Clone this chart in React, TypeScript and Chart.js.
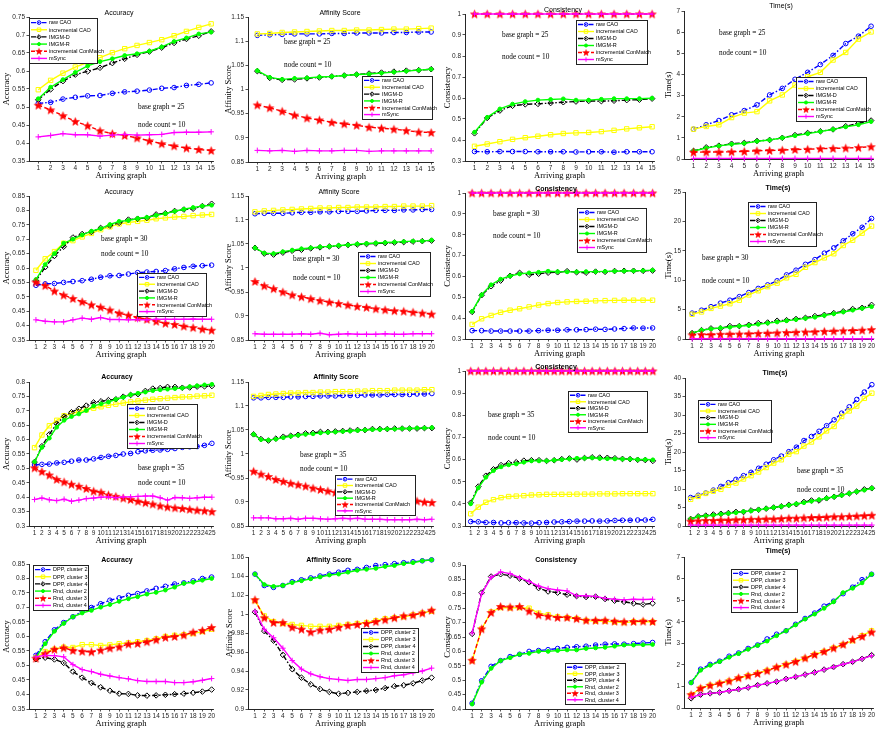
import React, { useEffect, useRef } from 'react';
import { Chart, registerables } from 'chart.js';
Chart.register(...registerables);

// ---------- categories ----------
const X15 = [1, 2, 3, 4, 5, 6, 7, 8, 9, 10, 11, 12, 13, 14, 15];
const X20 = [1, 2, 3, 4, 5, 6, 7, 8, 9, 10, 11, 12, 13, 14, 15, 16, 17, 18, 19, 20];
const X25 = [1, 2, 3, 4, 5, 6, 7, 8, 9, 10, 11, 12, 13, 14, 15, 16, 17, 18, 19, 20, 21, 22, 23, 24, 25];

const METHODS = ['raw CAO', 'incremental CAO', 'IMGM-D', 'IMGM-R', 'incremental ConMatch', 'mSync'];
const CLUSTERS = ['DPP, cluster 2', 'DPP, cluster 3', 'DPP, cluster 4', 'Rnd, cluster 2', 'Rnd, cluster 3', 'Rnd, cluster 4'];

// ---------- tick labels ----------
const ACC_T1 = [0.35, 0.4, 0.45, 0.5, 0.55, 0.6, 0.65, 0.7, 0.75];
const ACC_T2 = [0.35, 0.4, 0.45, 0.5, 0.55, 0.6, 0.65, 0.7, 0.75, 0.8, 0.85];
const ACC_T3 = [0.3, 0.35, 0.4, 0.45, 0.5, 0.55, 0.6, 0.65, 0.7, 0.75, 0.8];
const AFF_T = [0.85, 0.9, 0.95, 1, 1.05, 1.1, 1.15];
const AFFC_T = [0.9, 0.92, 0.94, 0.96, 0.98, 1, 1.02, 1.04, 1.06];
const CON_T = [0.3, 0.4, 0.5, 0.6, 0.7, 0.8, 0.9, 1];
const CONC_T = [0.4, 0.45, 0.5, 0.55, 0.6, 0.65, 0.7, 0.75, 0.8, 0.85, 0.9];
const TIME7_T = [0, 1, 2, 3, 4, 5, 6, 7];
const TIME25_T = [0, 5, 10, 15, 20, 25];
const TIME40_T = [0, 5, 10, 15, 20, 25, 30, 35, 40];

// ---------- row 1: base graph = 25 ----------
const A25_raw = [0.51, 0.513, 0.522, 0.527, 0.531, 0.532, 0.538, 0.542, 0.544, 0.547, 0.552, 0.554, 0.56, 0.563, 0.567];
const A25_inc = [0.548, 0.574, 0.594, 0.611, 0.624, 0.637, 0.651, 0.662, 0.671, 0.679, 0.687, 0.698, 0.71, 0.721, 0.731];
const A25_D = [0.52, 0.549, 0.572, 0.59, 0.599, 0.609, 0.622, 0.634, 0.645, 0.654, 0.665, 0.678, 0.689, 0.698, 0.71];
const A25_R = [0.523, 0.555, 0.576, 0.596, 0.614, 0.626, 0.634, 0.643, 0.648, 0.655, 0.667, 0.682, 0.692, 0.703, 0.708];
const A25_CM = [0.505, 0.492, 0.476, 0.46, 0.448, 0.434, 0.426, 0.421, 0.414, 0.406, 0.398, 0.392, 0.386, 0.382, 0.379];
const A25_MS = [0.417, 0.421, 0.426, 0.423, 0.423, 0.419, 0.422, 0.424, 0.422, 0.423, 0.424, 0.429, 0.43, 0.43, 0.431];

const F25_raw = [1.112, 1.113, 1.114, 1.115, 1.115, 1.115, 1.116, 1.116, 1.117, 1.117, 1.117, 1.118, 1.118, 1.119, 1.119];
const F25_inc = [1.115, 1.116, 1.118, 1.119, 1.12, 1.121, 1.122, 1.122, 1.123, 1.123, 1.124, 1.125, 1.125, 1.126, 1.127];
const F25_D = [1.038, 1.024, 1.02, 1.021, 1.023, 1.025, 1.027, 1.029, 1.031, 1.033, 1.035, 1.037, 1.039, 1.04, 1.042];
const F25_R = [1.039, 1.025, 1.021, 1.023, 1.024, 1.026, 1.027, 1.029, 1.031, 1.032, 1.034, 1.036, 1.038, 1.04, 1.042];
const F25_CM = [0.968, 0.962, 0.955, 0.947, 0.941, 0.937, 0.932, 0.929, 0.926, 0.922, 0.92, 0.918, 0.915, 0.912, 0.911];
const F25_MS = [0.874, 0.873, 0.874, 0.872, 0.874, 0.873, 0.873, 0.874, 0.874, 0.872, 0.873, 0.873, 0.873, 0.873, 0.873];

const C25_raw = [0.345, 0.344, 0.345, 0.345, 0.345, 0.344, 0.344, 0.344, 0.343, 0.344, 0.344, 0.342, 0.344, 0.344, 0.344];
const C25_inc = [0.37, 0.381, 0.392, 0.403, 0.411, 0.418, 0.425, 0.431, 0.434, 0.436, 0.44, 0.446, 0.453, 0.458, 0.463];
const C25_D = [0.432, 0.505, 0.54, 0.563, 0.57, 0.572, 0.576, 0.58, 0.583, 0.586, 0.585, 0.587, 0.59, 0.592, 0.597];
const C25_R = [0.437, 0.508, 0.548, 0.571, 0.583, 0.59, 0.593, 0.596, 0.59, 0.59, 0.594, 0.597, 0.597, 0.597, 0.599];
const C25_CM = [1, 1, 1, 1, 1, 1, 1, 1, 1, 1, 1, 1, 1, 1, 1];
const C25_MS = [1, 1, 1, 1, 1, 1, 1, 1, 1, 1, 1, 1, 1, 1, 1];

const T25_raw = [1.41, 1.62, 1.82, 2.09, 2.29, 2.56, 3.03, 3.34, 3.77, 4.1, 4.47, 4.9, 5.46, 5.81, 6.28];
const T25_inc = [1.41, 1.54, 1.62, 1.96, 2.17, 2.24, 2.75, 3.03, 3.5, 3.89, 4.1, 4.68, 5.04, 5.67, 6.01];
const T25_D = [0.38, 0.55, 0.63, 0.72, 0.76, 0.85, 0.9, 1.0, 1.13, 1.23, 1.31, 1.4, 1.55, 1.68, 1.82];
const T25_R = [0.38, 0.52, 0.62, 0.7, 0.74, 0.84, 0.9, 1.0, 1.1, 1.2, 1.3, 1.4, 1.52, 1.62, 1.77];
const T25_CM = [0.32, 0.33, 0.33, 0.34, 0.36, 0.39, 0.4, 0.42, 0.45, 0.46, 0.49, 0.5, 0.52, 0.54, 0.58];
const T25_MS = [0.03, 0.03, 0.03, 0.03, 0.03, 0.03, 0.03, 0.03, 0.03, 0.03, 0.03, 0.03, 0.03, 0.03, 0.03];

// ---------- row 2: base graph = 30 ----------
const A30_raw = [0.54, 0.545, 0.546, 0.55, 0.553, 0.556, 0.561, 0.568, 0.573, 0.574, 0.579, 0.584, 0.586, 0.588, 0.591, 0.597, 0.602, 0.606, 0.608, 0.61];
const A30_inc = [0.592, 0.632, 0.657, 0.686, 0.695, 0.708, 0.72, 0.733, 0.743, 0.753, 0.758, 0.762, 0.766, 0.771, 0.774, 0.777, 0.779, 0.782, 0.784, 0.786];
const A30_D = [0.556, 0.603, 0.642, 0.674, 0.706, 0.718, 0.725, 0.739, 0.747, 0.757, 0.768, 0.771, 0.774, 0.786, 0.79, 0.798, 0.803, 0.806, 0.815, 0.823];
const A30_R = [0.56, 0.612, 0.65, 0.686, 0.7, 0.715, 0.728, 0.737, 0.751, 0.762, 0.765, 0.772, 0.776, 0.783, 0.789, 0.797, 0.804, 0.81, 0.815, 0.818];
const A30_CM = [0.551, 0.539, 0.52, 0.506, 0.494, 0.483, 0.472, 0.464, 0.454, 0.443, 0.436, 0.428, 0.422, 0.415, 0.408, 0.404, 0.398, 0.393, 0.388, 0.384];
const A30_MS = [0.42, 0.415, 0.413, 0.413, 0.42, 0.426, 0.422, 0.428, 0.421, 0.421, 0.42, 0.421, 0.42, 0.422, 0.422, 0.422, 0.422, 0.423, 0.422, 0.422];

const F30_raw = [1.113, 1.114, 1.114, 1.114, 1.115, 1.116, 1.116, 1.117, 1.117, 1.118, 1.118, 1.118, 1.119, 1.12, 1.12, 1.12, 1.121, 1.121, 1.122, 1.122];
const F30_inc = [1.117, 1.119, 1.12, 1.121, 1.122, 1.123, 1.124, 1.125, 1.125, 1.126, 1.126, 1.127, 1.127, 1.127, 1.128, 1.128, 1.129, 1.129, 1.129, 1.13];
const F30_D = [1.042, 1.03, 1.028, 1.032, 1.036, 1.038, 1.041, 1.043, 1.045, 1.046, 1.048, 1.049, 1.05, 1.051, 1.052, 1.053, 1.054, 1.055, 1.056, 1.057];
const F30_R = [1.042, 1.031, 1.03, 1.034, 1.037, 1.04, 1.042, 1.044, 1.045, 1.047, 1.048, 1.05, 1.051, 1.052, 1.053, 1.054, 1.055, 1.056, 1.056, 1.058];
const F30_CM = [0.972, 0.963, 0.957, 0.95, 0.944, 0.94, 0.936, 0.932, 0.929, 0.926, 0.923, 0.92, 0.918, 0.915, 0.913, 0.911, 0.91, 0.908, 0.906, 0.904];
const F30_MS = [0.863, 0.862, 0.862, 0.862, 0.862, 0.863, 0.862, 0.864, 0.861, 0.862, 0.863, 0.862, 0.862, 0.862, 0.863, 0.862, 0.862, 0.863, 0.863, 0.863];

const C30_raw = [0.34, 0.34, 0.338, 0.338, 0.338, 0.338, 0.338, 0.34, 0.342, 0.342, 0.344, 0.344, 0.345, 0.347, 0.346, 0.348, 0.35, 0.353, 0.352, 0.353];
const C30_inc = [0.37, 0.397, 0.413, 0.428, 0.438, 0.445, 0.454, 0.463, 0.47, 0.475, 0.478, 0.48, 0.481, 0.483, 0.484, 0.485, 0.486, 0.486, 0.486, 0.486];
const C30_D = [0.43, 0.51, 0.553, 0.58, 0.603, 0.617, 0.608, 0.613, 0.618, 0.62, 0.625, 0.62, 0.618, 0.623, 0.622, 0.626, 0.627, 0.627, 0.627, 0.628];
const C30_R = [0.432, 0.512, 0.56, 0.587, 0.602, 0.612, 0.617, 0.62, 0.625, 0.623, 0.622, 0.622, 0.623, 0.623, 0.624, 0.625, 0.626, 0.627, 0.628, 0.63];
const C30_CM = [1, 1, 1, 1, 1, 1, 1, 1, 1, 1, 1, 1, 1, 1, 1, 1, 1, 1, 1, 1];
const C30_MS = [1, 1, 1, 1, 1, 1, 1, 1, 1, 1, 1, 1, 1, 1, 1, 1, 1, 1, 1, 1];

const T30_raw = [4.4, 4.9, 5.5, 6.1, 6.6, 7.2, 7.9, 8.6, 9.2, 9.9, 10.9, 11.7, 12.7, 13.5, 14.6, 15.5, 16.7, 17.9, 19.0, 20.5];
const T30_inc = [4.2, 4.6, 5.2, 5.6, 6.0, 6.6, 7.5, 8.2, 8.9, 9.5, 10.4, 11.0, 12.2, 13.0, 13.8, 14.5, 15.9, 16.8, 18.0, 19.2];
const T30_D = [1.0, 1.5, 1.8, 1.8, 2.2, 2.2, 2.4, 2.7, 2.8, 3.1, 3.2, 3.4, 3.6, 3.9, 4.1, 4.4, 4.7, 5.1, 5.3, 5.8];
const T30_R = [1.0, 1.5, 1.7, 1.9, 2.0, 2.2, 2.3, 2.5, 2.7, 2.9, 3.1, 3.3, 3.5, 3.7, 4.0, 4.3, 4.6, 4.9, 5.2, 5.5];
const T30_CM = [0.7, 0.75, 0.75, 0.8, 0.85, 0.85, 0.9, 0.95, 1.0, 1.05, 1.1, 1.15, 1.2, 1.25, 1.3, 1.35, 1.4, 1.45, 1.5, 1.6];
const T30_MS = [0.05, 0.05, 0.05, 0.05, 0.05, 0.05, 0.05, 0.05, 0.05, 0.05, 0.05, 0.05, 0.05, 0.05, 0.05, 0.05, 0.05, 0.05, 0.05, 0.05];

// ---------- row 3: base graph = 35 ----------
const A35_raw = [0.512, 0.514, 0.515, 0.519, 0.521, 0.525, 0.529, 0.529, 0.533, 0.538, 0.542, 0.545, 0.55, 0.552, 0.558, 0.561, 0.563, 0.564, 0.566, 0.569, 0.573, 0.575, 0.576, 0.58, 0.587];
const A35_inc = [0.572, 0.616, 0.648, 0.667, 0.683, 0.69, 0.697, 0.703, 0.709, 0.714, 0.719, 0.723, 0.727, 0.731, 0.734, 0.737, 0.74, 0.742, 0.744, 0.746, 0.748, 0.749, 0.751, 0.752, 0.754];
const A35_D = [0.522, 0.577, 0.618, 0.655, 0.68, 0.695, 0.707, 0.718, 0.729, 0.733, 0.737, 0.74, 0.749, 0.755, 0.758, 0.769, 0.777, 0.779, 0.783, 0.783, 0.78, 0.781, 0.784, 0.785, 0.786];
const A35_R = [0.523, 0.573, 0.605, 0.643, 0.667, 0.68, 0.689, 0.701, 0.717, 0.724, 0.73, 0.74, 0.747, 0.756, 0.761, 0.765, 0.77, 0.773, 0.775, 0.777, 0.779, 0.784, 0.787, 0.79, 0.792];
const A35_CM = [0.502, 0.489, 0.477, 0.462, 0.453, 0.445, 0.438, 0.43, 0.421, 0.417, 0.408, 0.403, 0.397, 0.392, 0.386, 0.381, 0.376, 0.37, 0.366, 0.363, 0.361, 0.358, 0.355, 0.353, 0.35];
const A35_MS = [0.392, 0.397, 0.391, 0.388, 0.393, 0.386, 0.39, 0.395, 0.397, 0.4, 0.401, 0.398, 0.401, 0.401, 0.403, 0.404, 0.404, 0.398, 0.39, 0.399, 0.398, 0.396, 0.398, 0.4, 0.4];

const F35_raw = [1.117, 1.117, 1.118, 1.118, 1.118, 1.119, 1.119, 1.12, 1.12, 1.121, 1.121, 1.121, 1.122, 1.122, 1.122, 1.123, 1.123, 1.123, 1.124, 1.124, 1.124, 1.124, 1.125, 1.125, 1.126];
const F35_inc = [1.12, 1.122, 1.124, 1.125, 1.126, 1.127, 1.127, 1.128, 1.128, 1.129, 1.129, 1.13, 1.13, 1.13, 1.131, 1.131, 1.132, 1.132, 1.132, 1.133, 1.133, 1.133, 1.133, 1.134, 1.134];
const F35_D = [1.041, 1.031, 1.028, 1.032, 1.036, 1.038, 1.04, 1.043, 1.044, 1.046, 1.046, 1.047, 1.048, 1.049, 1.05, 1.05, 1.052, 1.052, 1.052, 1.053, 1.053, 1.053, 1.053, 1.054, 1.054];
const F35_R = [1.041, 1.03, 1.029, 1.031, 1.034, 1.037, 1.039, 1.041, 1.042, 1.044, 1.045, 1.046, 1.047, 1.048, 1.049, 1.05, 1.051, 1.051, 1.052, 1.052, 1.053, 1.053, 1.054, 1.054, 1.055];
const F35_CM = [0.964, 0.958, 0.953, 0.947, 0.943, 0.939, 0.936, 0.933, 0.929, 0.926, 0.923, 0.92, 0.918, 0.916, 0.914, 0.912, 0.91, 0.909, 0.907, 0.906, 0.904, 0.903, 0.902, 0.9, 0.899];
const F35_MS = [0.867, 0.867, 0.867, 0.865, 0.865, 0.866, 0.864, 0.866, 0.866, 0.865, 0.864, 0.865, 0.866, 0.865, 0.866, 0.864, 0.864, 0.864, 0.863, 0.863, 0.863, 0.863, 0.864, 0.863, 0.864];

const C35_raw = [0.32, 0.319, 0.316, 0.316, 0.314, 0.315, 0.315, 0.314, 0.313, 0.315, 0.316, 0.318, 0.319, 0.32, 0.322, 0.322, 0.323, 0.322, 0.323, 0.325, 0.326, 0.326, 0.327, 0.327, 0.33];
const C35_inc = [0.355, 0.385, 0.407, 0.419, 0.428, 0.433, 0.435, 0.437, 0.44, 0.441, 0.443, 0.443, 0.443, 0.443, 0.444, 0.444, 0.444, 0.445, 0.445, 0.445, 0.446, 0.446, 0.446, 0.446, 0.446];
const C35_D = [0.405, 0.478, 0.527, 0.556, 0.575, 0.584, 0.588, 0.595, 0.597, 0.597, 0.594, 0.597, 0.602, 0.605, 0.6, 0.607, 0.61, 0.609, 0.608, 0.606, 0.603, 0.602, 0.599, 0.598, 0.594];
const C35_R = [0.4, 0.472, 0.52, 0.55, 0.567, 0.576, 0.58, 0.588, 0.594, 0.594, 0.594, 0.597, 0.6, 0.603, 0.606, 0.606, 0.608, 0.605, 0.604, 0.603, 0.602, 0.602, 0.6, 0.6, 0.599];
const C35_CM = [1, 1, 1, 1, 1, 1, 1, 1, 1, 1, 1, 1, 1, 1, 1, 1, 1, 1, 1, 1, 1, 1, 1, 1, 1];
const C35_MS = [1, 1, 1, 1, 1, 1, 1, 1, 1, 1, 1, 1, 1, 1, 1, 1, 1, 1, 1, 1, 1, 1, 1, 1, 1];

const T35_raw = [7.7, 8.3, 8.9, 9.7, 10.7, 11.7, 12.6, 13.6, 14.5, 15.6, 16.7, 17.9, 18.9, 20.1, 21.3, 23.1, 24.2, 25.6, 27.1, 28.7, 30.5, 32.2, 34.2, 36.2, 38.2];
const T35_inc = [7.2, 8.0, 8.8, 9.4, 9.9, 11.0, 11.6, 12.7, 13.6, 14.6, 15.8, 17.0, 17.9, 19.4, 20.1, 21.6, 22.7, 24.1, 25.7, 26.9, 29.6, 31.1, 32.4, 34.5, 35.9];
const T35_D = [1.9, 2.6, 2.8, 3.1, 3.3, 3.5, 3.8, 3.8, 4.2, 4.4, 4.7, 5.0, 5.3, 5.7, 5.9, 6.5, 6.9, 6.9, 7.5, 7.9, 8.4, 8.8, 9.3, 9.9, 10.2];
const T35_R = [1.9, 2.5, 2.7, 2.9, 3.2, 3.4, 3.6, 3.9, 4.1, 4.4, 4.7, 5.0, 5.3, 5.6, 6.0, 6.3, 6.7, 7.1, 7.5, 7.9, 8.3, 8.8, 9.3, 9.7, 10.2];
const T35_CM = [1.3, 1.4, 1.5, 1.5, 1.6, 1.6, 1.7, 1.7, 1.8, 1.8, 1.9, 1.9, 2.0, 2.1, 2.1, 2.2, 2.3, 2.3, 2.4, 2.5, 2.5, 2.6, 2.7, 2.8, 2.9];
const T35_MS = [0.25, 0.25, 0.25, 0.25, 0.25, 0.25, 0.25, 0.25, 0.25, 0.25, 0.25, 0.25, 0.25, 0.25, 0.25, 0.25, 0.25, 0.25, 0.25, 0.25, 0.25, 0.25, 0.25, 0.25, 0.25];

// ---------- row 4: clusters ----------
const AC_dpp2 = [0.535, 0.582, 0.623, 0.648, 0.668, 0.687, 0.7, 0.713, 0.725, 0.733, 0.742, 0.748, 0.757, 0.766, 0.773, 0.781, 0.785, 0.792, 0.8, 0.805];
const AC_dpp3 = [0.527, 0.548, 0.556, 0.563, 0.562, 0.572, 0.572, 0.569, 0.571, 0.575, 0.578, 0.582, 0.586, 0.592, 0.6, 0.604, 0.606, 0.61, 0.617, 0.625];
const AC_dpp4 = [0.522, 0.527, 0.521, 0.509, 0.479, 0.458, 0.44, 0.425, 0.413, 0.403, 0.402, 0.397, 0.396, 0.397, 0.399, 0.401, 0.403, 0.406, 0.41, 0.417];
const AC_rnd2 = [0.528, 0.575, 0.618, 0.645, 0.668, 0.681, 0.69, 0.701, 0.71, 0.721, 0.73, 0.737, 0.746, 0.752, 0.76, 0.77, 0.783, 0.787, 0.794, 0.8];
const AC_rnd3 = [0.525, 0.541, 0.556, 0.561, 0.552, 0.549, 0.547, 0.553, 0.56, 0.564, 0.574, 0.576, 0.582, 0.589, 0.597, 0.6, 0.605, 0.615, 0.621, 0.631];
const AC_rnd4 = [0.53, 0.535, 0.534, 0.53, 0.503, 0.486, 0.479, 0.47, 0.464, 0.458, 0.454, 0.448, 0.445, 0.445, 0.445, 0.441, 0.441, 0.444, 0.449, 0.455];

const FC_dpp2 = [1.042, 1.03, 1.028, 1.03, 1.034, 1.036, 1.038, 1.04, 1.042, 1.044, 1.046, 1.047, 1.049, 1.051, 1.052, 1.053, 1.054, 1.055, 1.056, 1.057];
const FC_dpp3 = [1.014, 0.998, 0.992, 0.99, 0.989, 0.988, 0.987, 0.987, 0.987, 0.988, 0.989, 0.99, 0.991, 0.993, 0.995, 0.996, 0.997, 0.999, 1.001, 1.003];
const FC_dpp4 = [1.002, 0.982, 0.972, 0.957, 0.942, 0.933, 0.926, 0.921, 0.918, 0.916, 0.917, 0.918, 0.919, 0.92, 0.922, 0.924, 0.925, 0.927, 0.93, 0.933];
const FC_rnd2 = [1.042, 1.031, 1.029, 1.03, 1.033, 1.035, 1.037, 1.039, 1.041, 1.042, 1.044, 1.046, 1.047, 1.048, 1.05, 1.051, 1.053, 1.054, 1.056, 1.057];
const FC_rnd3 = [1.015, 0.996, 0.991, 0.991, 0.986, 0.984, 0.981, 0.983, 0.984, 0.986, 0.988, 0.989, 0.99, 0.992, 0.994, 0.996, 0.998, 0.999, 1.001, 1.004];
const FC_rnd4 = [1.003, 0.984, 0.975, 0.964, 0.951, 0.942, 0.937, 0.934, 0.932, 0.931, 0.93, 0.931, 0.931, 0.932, 0.933, 0.935, 0.936, 0.938, 0.94, 0.943];

const CC_dpp2 = [0.42, 0.498, 0.548, 0.568, 0.582, 0.59, 0.6, 0.603, 0.606, 0.61, 0.614, 0.616, 0.618, 0.622, 0.625, 0.626, 0.625, 0.627, 0.629, 0.631];
const CC_dpp3 = [0.568, 0.678, 0.737, 0.752, 0.751, 0.752, 0.75, 0.733, 0.727, 0.72, 0.717, 0.714, 0.707, 0.705, 0.705, 0.702, 0.7, 0.703, 0.704, 0.702];
const CC_dpp4 = [0.661, 0.804, 0.86, 0.868, 0.863, 0.853, 0.84, 0.82, 0.808, 0.804, 0.797, 0.792, 0.789, 0.79, 0.782, 0.776, 0.772, 0.767, 0.763, 0.767];
const CC_rnd2 = [0.417, 0.493, 0.541, 0.568, 0.578, 0.59, 0.593, 0.6, 0.6, 0.603, 0.605, 0.605, 0.61, 0.612, 0.614, 0.618, 0.622, 0.622, 0.623, 0.624];
const CC_rnd3 = [0.569, 0.678, 0.735, 0.756, 0.754, 0.756, 0.74, 0.727, 0.722, 0.718, 0.718, 0.714, 0.708, 0.708, 0.708, 0.705, 0.703, 0.704, 0.705, 0.704];
const CC_rnd4 = [0.664, 0.8, 0.857, 0.876, 0.87, 0.856, 0.843, 0.827, 0.818, 0.813, 0.81, 0.793, 0.793, 0.791, 0.784, 0.781, 0.779, 0.781, 0.78, 0.781];

const TC_dpp2 = [1.18, 1.8, 2.02, 2.17, 2.4, 2.55, 2.76, 2.92, 3.2, 3.42, 3.58, 3.88, 4.15, 4.4, 4.72, 4.95, 5.3, 5.6, 5.95, 6.2];
const TC_dpp3 = [0.6, 0.92, 1.05, 1.15, 1.25, 1.38, 1.5, 1.62, 1.74, 1.88, 2.02, 2.16, 2.3, 2.48, 2.62, 2.78, 2.94, 3.12, 3.35, 3.58];
const TC_dpp4 = [0.45, 0.62, 0.68, 0.72, 0.8, 0.87, 0.95, 1.06, 1.14, 1.22, 1.35, 1.44, 1.55, 1.65, 1.78, 1.9, 2.03, 2.14, 2.28, 2.45];
const TC_rnd2 = [1.17, 1.75, 1.98, 2.15, 2.35, 2.52, 2.72, 2.9, 3.1, 3.35, 3.58, 3.85, 4.12, 4.35, 4.62, 4.92, 5.35, 5.55, 5.8, 6.2];
const TC_rnd3 = [0.62, 0.92, 1.05, 1.15, 1.25, 1.4, 1.5, 1.6, 1.73, 1.9, 2.02, 2.15, 2.32, 2.48, 2.62, 2.78, 2.95, 3.18, 3.32, 3.52];
const TC_rnd4 = [0.5, 0.62, 0.68, 0.72, 0.8, 0.87, 0.95, 1.05, 1.15, 1.22, 1.35, 1.45, 1.55, 1.65, 1.78, 1.9, 2.03, 2.14, 2.28, 2.43];

// ---------- styles ----------
const SANS = '"Liberation Sans", Arial, Helvetica, sans-serif';
const SERIF = '"Liberation Serif", "Times New Roman", serif';
const LINE_W = 1.4;
const NONE = 'rgba(0,0,0,0)';
type St = { color: string; dash: number[]; point: string; r: number; fill: string };
const STYLES: St[] = [
  { color: '#0000ff', dash: [5, 2, 1.5, 2], point: 'circle', r: 2.3, fill: NONE },
  { color: '#ffff00', dash: [], point: 'rect', r: 3.1, fill: NONE },
  { color: '#000000', dash: [5, 2, 1.5, 2], point: 'rectRot', r: 2.8, fill: NONE },
  { color: '#00ff00', dash: [], point: 'circle', r: 1.9, fill: '#00ff00' },
  { color: '#ff0000', dash: [4, 2.5], point: 'star', r: 4.3, fill: '#ff0000' },
  { color: '#ff00ff', dash: [], point: 'cross', r: 2.8, fill: '#ff00ff' },
];

type Note = { t: string; x: number; y: number };
type Panel = {
  L: number; T: number; R: number; B: number;
  xs: number[]; yTicks: number[];
  title: string; titleX: number; titleY: number; bold: boolean;
  yTitle: string; yOff: number;
  names: string[]; series: number[][];
  legend: { x: number; y: number; w: number; h: number };
  notes: Note[];
};

const notes = (g: string, x: number, y1: number, y2: number): Note[] => [
  { t: 'base graph = ' + g, x, y: y1 },
  { t: 'node count = 10', x, y: y2 },
];

const PANELS: Panel[] = [
  // row 1
  { L: 29, T: 17, R: 213, B: 161, xs: X15, yTicks: ACC_T1, title: 'Accuracy', titleX: 119, titleY: 13, bold: false, yTitle: 'Accuracy', yOff: 22, names: METHODS,
    series: [A25_raw, A25_inc, A25_D, A25_R, A25_CM, A25_MS], legend: { x: 29, y: 18, w: 68, h: 45 }, notes: notes('25', 138, 107, 125) },
  { L: 248, T: 17, R: 433, B: 162, xs: X15, yTicks: AFF_T, title: 'Affinity Score', titleX: 340, titleY: 13, bold: false, yTitle: 'Affinity Score', yOff: 19, names: METHODS,
    series: [F25_raw, F25_inc, F25_D, F25_R, F25_CM, F25_MS], legend: { x: 362, y: 76, w: 70, h: 43 }, notes: notes('25', 284, 42, 65) },
  { L: 465, T: 14, R: 654, B: 161, xs: X15, yTicks: CON_T, title: 'Consistency', titleX: 563, titleY: 10, bold: false, yTitle: 'Consistency', yOff: 17, names: METHODS,
    series: [C25_raw, C25_inc, C25_D, C25_R, C25_CM, C25_MS], legend: { x: 576, y: 20, w: 71, h: 44 }, notes: notes('25', 502, 35, 57) },
  { L: 684, T: 11, R: 873, B: 159, xs: X15, yTicks: TIME7_T, title: 'Time(s)', titleX: 781, titleY: 6, bold: false, yTitle: 'Time(s)', yOff: 15, names: METHODS,
    series: [T25_raw, T25_inc, T25_D, T25_R, T25_CM, T25_MS], legend: { x: 796, y: 77, w: 70, h: 44 }, notes: notes('25', 719, 33, 53) },
  // row 2
  { L: 29, T: 196, R: 213, B: 340, xs: X20, yTicks: ACC_T2, title: 'Accuracy', titleX: 119, titleY: 192, bold: false, yTitle: 'Accuracy', yOff: 22, names: METHODS,
    series: [A30_raw, A30_inc, A30_D, A30_R, A30_CM, A30_MS], legend: { x: 137, y: 273, w: 69, h: 43 }, notes: notes('30', 101, 239, 254) },
  { L: 248, T: 196, R: 433, B: 340, xs: X20, yTicks: AFF_T, title: 'Affinity Score', titleX: 339, titleY: 192, bold: false, yTitle: 'Affinity Score', yOff: 19, names: METHODS,
    series: [F30_raw, F30_inc, F30_D, F30_R, F30_CM, F30_MS], legend: { x: 358, y: 252, w: 72, h: 44 }, notes: notes('30', 293, 259, 278) },
  { L: 465, T: 193, R: 654, B: 339, xs: X20, yTicks: CON_T, title: 'Consistency', titleX: 556, titleY: 189, bold: true, yTitle: 'Consistency', yOff: 17, names: METHODS,
    series: [C30_raw, C30_inc, C30_D, C30_R, C30_CM, C30_MS], legend: { x: 577, y: 208, w: 69, h: 44 }, notes: notes('30', 493, 214, 236) },
  { L: 685, T: 192, R: 873, B: 339, xs: X20, yTicks: TIME25_T, title: 'Time(s)', titleX: 778, titleY: 188, bold: true, yTitle: 'Time(s)', yOff: 16, names: METHODS,
    series: [T30_raw, T30_inc, T30_D, T30_R, T30_CM, T30_MS], legend: { x: 748, y: 202, w: 68, h: 44 }, notes: notes('30', 702, 258, 281) },
  // row 3
  { L: 29, T: 382, R: 213, B: 526, xs: X25, yTicks: ACC_T3, title: 'Accuracy', titleX: 117, titleY: 377, bold: true, yTitle: 'Accuracy', yOff: 22, names: METHODS,
    series: [A35_raw, A35_inc, A35_D, A35_R, A35_CM, A35_MS], legend: { x: 127, y: 404, w: 70, h: 44 }, notes: notes('35', 138, 468, 483) },
  { L: 248, T: 382, R: 433, B: 526, xs: X25, yTicks: AFF_T, title: 'Affinity Score', titleX: 336, titleY: 377, bold: true, yTitle: 'Affinity Score', yOff: 19, names: METHODS,
    series: [F35_raw, F35_inc, F35_D, F35_R, F35_CM, F35_MS], legend: { x: 335, y: 475, w: 80, h: 40 }, notes: notes('35', 300, 455, 469) },
  { L: 465, T: 371, R: 654, B: 526, xs: X25, yTicks: CON_T, title: 'Consistency', titleX: 556, titleY: 367, bold: true, yTitle: 'Consistency', yOff: 17, names: METHODS,
    series: [C35_raw, C35_inc, C35_D, C35_R, C35_CM, C35_MS], legend: { x: 568, y: 391, w: 79, h: 41 }, notes: notes('35', 488, 415, 438) },
  { L: 685, T: 378, R: 873, B: 526, xs: X25, yTicks: TIME40_T, title: 'Time(s)', titleX: 775, titleY: 373, bold: true, yTitle: 'Time(s)', yOff: 16, names: METHODS,
    series: [T35_raw, T35_inc, T35_D, T35_R, T35_CM, T35_MS], legend: { x: 698, y: 400, w: 73, h: 42 }, notes: notes('35', 797, 471, 490) },
  // row 4
  { L: 29, T: 564, R: 213, B: 709, xs: X20, yTicks: ACC_T2, title: 'Accuracy', titleX: 117, titleY: 560, bold: true, yTitle: 'Accuracy', yOff: 22, names: CLUSTERS,
    series: [AC_dpp2, AC_dpp3, AC_dpp4, AC_rnd2, AC_rnd3, AC_rnd4], legend: { x: 33, y: 565, w: 55, h: 45 }, notes: [] },
  { L: 248, T: 557, R: 433, B: 709, xs: X20, yTicks: AFFC_T, title: 'Affinity Score', titleX: 329, titleY: 560, bold: true, yTitle: 'Affinity Score', yOff: 18, names: CLUSTERS,
    series: [FC_dpp2, FC_dpp3, FC_dpp4, FC_rnd2, FC_rnd3, FC_rnd4], legend: { x: 361, y: 628, w: 57, h: 44 }, notes: [] },
  { L: 465, T: 565, R: 654, B: 709, xs: X20, yTicks: CONC_T, title: 'Consistency', titleX: 556, titleY: 560, bold: true, yTitle: 'Consistency', yOff: 17, names: CLUSTERS,
    series: [CC_dpp2, CC_dpp3, CC_dpp4, CC_rnd2, CC_rnd3, CC_rnd4], legend: { x: 565, y: 663, w: 60, h: 41 }, notes: [] },
  { L: 684, T: 557, R: 873, B: 708, xs: X20, yTicks: TIME7_T, title: 'Time(s)', titleX: 778, titleY: 551, bold: true, yTitle: 'Time(s)', yOff: 15, names: CLUSTERS,
    series: [TC_dpp2, TC_dpp3, TC_dpp4, TC_rnd2, TC_rnd3, TC_rnd4], legend: { x: 731, y: 569, w: 66, h: 43 }, notes: [] },
];

// canvas frame around the plot area
const PAD_L = 40, PAD_T = 12, PAD_R = 10, PAD_B = 28;
const LEGEND_MARK_SCALE = 0.8;

function makeStar(color: string, R: number): HTMLCanvasElement {
  const size = Math.ceil(R * 2) + 2;
  const c = document.createElement('canvas');
  c.width = size; c.height = size;
  const g = c.getContext('2d')!;
  const cx = size / 2, cy = size / 2 + R * 0.1;
  g.beginPath();
  for (let k = 0; k < 10; k++) {
    const ang = -Math.PI / 2 + (k * Math.PI) / 5;
    const rr = k % 2 === 0 ? R : R * 0.42;
    g.lineTo(cx + rr * Math.cos(ang), cy + rr * Math.sin(ang));
  }
  g.closePath();
  g.fillStyle = color; g.fill();
  g.strokeStyle = color; g.lineWidth = 0.6; g.stroke();
  return c;
}

function drawMarker(ctx: CanvasRenderingContext2D, st: St, x: number, y: number, star: HTMLCanvasElement) {
  ctx.setLineDash([]);
  ctx.lineWidth = 1; ctx.strokeStyle = st.color; ctx.fillStyle = st.fill;
  const r = st.r * LEGEND_MARK_SCALE;
  ctx.beginPath();
  if (st.point === 'circle') {
    ctx.arc(x, y, r, 0, Math.PI * 2); ctx.fill(); ctx.stroke();
  } else if (st.point === 'rect') {
    const s = r * Math.SQRT1_2; ctx.rect(x - s, y - s, 2 * s, 2 * s); ctx.fill(); ctx.stroke();
  } else if (st.point === 'rectRot') {
    ctx.moveTo(x, y - r); ctx.lineTo(x + r, y); ctx.lineTo(x, y + r); ctx.lineTo(x - r, y); ctx.closePath(); ctx.fill(); ctx.stroke();
  } else if (st.point === 'cross') {
    ctx.moveTo(x - r, y); ctx.lineTo(x + r, y); ctx.moveTo(x, y - r); ctx.lineTo(x, y + r); ctx.stroke();
  } else if (st.point === 'star') {
    const w = star.width * LEGEND_MARK_SCALE, h = star.height * LEGEND_MARK_SCALE;
    ctx.drawImage(star, x - w / 2, y - h / 2, w, h);
  }
}

function PanelChart({ p }: { p: Panel }) {
  const ref = useRef<HTMLCanvasElement>(null);
  const cl = p.L - PAD_L, ct = p.T - PAD_T;
  const cw = p.R - p.L + PAD_L + PAD_R, ch = p.B - p.T + PAD_T + PAD_B;

  useEffect(() => {
    if (!ref.current) return;
    const star = makeStar('#ff0000', STYLES[4].r);
    const decor = {
      id: 'decor',
      afterDraw(chart: any) {
        const ctx: CanvasRenderingContext2D = chart.ctx;
        ctx.save();
        ctx.setLineDash([]);
        ctx.fillStyle = '#000';
        ctx.textAlign = 'center';
        ctx.textBaseline = 'middle';
        ctx.font = (p.bold ? 'bold ' : '') + '7px ' + SANS;
        ctx.fillText(p.title, p.titleX - cl, p.titleY - ct);
        ctx.font = '8.5px ' + SERIF;
        ctx.fillText('Arriving graph', (p.L + p.R) / 2 - cl, p.B + 15 - ct);
        ctx.save();
        ctx.translate(p.L - p.yOff - cl, (p.T + p.B) / 2 - ct);
        ctx.rotate(-Math.PI / 2);
        ctx.fillText(p.yTitle, 0, 0);
        ctx.restore();
        ctx.textAlign = 'left';
        ctx.font = '7.3px ' + SERIF;
        for (const n of p.notes) ctx.fillText(n.t, n.x - cl, n.y - ct);
        // legend box
        const lg = p.legend;
        const lx = Math.round(lg.x - cl), ly = Math.round(lg.y - ct);
        ctx.fillStyle = '#fff';
        ctx.fillRect(lx, ly, lg.w, lg.h);
        ctx.strokeStyle = '#222';
        ctx.lineWidth = 1;
        ctx.strokeRect(lx + 0.5, ly + 0.5, lg.w, lg.h);
        const rh = (lg.h - 2) / p.names.length;
        p.names.forEach((nm, i) => {
          const st = STYLES[i];
          const cy = ly + 1 + rh * (i + 0.5);
          ctx.strokeStyle = st.color;
          ctx.lineWidth = LINE_W;
          ctx.setLineDash(st.dash);
          ctx.beginPath();
          ctx.moveTo(lx + 2, cy);
          ctx.lineTo(lx + 18, cy);
          ctx.stroke();
          drawMarker(ctx, st, lx + 10, cy, star);
          ctx.fillStyle = '#000';
          ctx.font = '5.5px ' + SANS;
          ctx.textAlign = 'left';
          ctx.fillText(nm, lx + 20, cy + 0.3);
        });
        ctx.restore();
      },
    };

    const axisCommon = {
      grid: { display: true, drawOnChartArea: false, drawTicks: true, tickLength: 2.5, color: '#262626', lineWidth: 0.8 },
      border: { display: true, color: '#262626', width: 1 },
    };
    const tickFont = { family: SANS, size: 6.5 };
    const nX = p.xs[p.xs.length - 1];

    const chart = new Chart(ref.current, {
      type: 'line',
      data: {
        datasets: p.series.map((ys, i) => {
          const st = STYLES[i];
          return {
            label: p.names[i],
            data: ys.map((y, j) => ({ x: p.xs[j], y })),
            borderColor: st.color,
            backgroundColor: st.fill,
            borderWidth: LINE_W,
            borderDash: st.dash,
            pointStyle: (st.point === 'star' ? star : st.point) as any,
            pointRadius: st.r,
            pointBorderColor: st.color,
            pointBackgroundColor: st.fill,
            pointBorderWidth: 1,
            tension: 0,
            fill: false,
            order: p.series.length - i,
            clip: false as any,
          };
        }),
      },
      options: {
        responsive: false,
        animation: false,
        devicePixelRatio: 1,
        events: [],
        layout: { padding: { top: PAD_T, right: PAD_R, bottom: 0, left: 0 } },
        plugins: { legend: { display: false }, title: { display: false }, tooltip: { enabled: false } },
        scales: {
          x: {
            type: 'linear',
            min: 0.25,
            max: nX + 0.15,
            afterBuildTicks: (s: any) => { s.ticks = p.xs.map((v) => ({ value: v })); },
            afterFit: (s: any) => { s.height = PAD_B; },
            ticks: { autoSkip: false, maxRotation: 0, minRotation: 0, padding: 1, color: '#262626', font: tickFont, callback: (v: any) => String(v) },
            ...axisCommon,
          },
          y: {
            type: 'linear',
            min: p.yTicks[0],
            max: p.yTicks[p.yTicks.length - 1],
            afterBuildTicks: (s: any) => { s.ticks = p.yTicks.map((v) => ({ value: v })); },
            afterFit: (s: any) => { s.width = PAD_L; },
            ticks: { autoSkip: false, padding: 1.5, color: '#262626', font: tickFont, callback: (v: any) => String(v) },
            ...axisCommon,
          },
        },
      } as any,
      plugins: [decor],
    });
    return () => chart.destroy();
  }, []);

  return (
    <canvas
      ref={ref}
      width={cw}
      height={ch}
      style={{ position: 'absolute', left: cl, top: ct, width: cw, height: ch }}
    />
  );
}

export default function App() {
  return (
    <div style={{ position: 'absolute', left: 0, top: 0, width: 876, height: 733, background: '#fff', overflow: 'hidden' }}>
      {PANELS.map((p, i) => (
        <PanelChart key={i} p={p} />
      ))}
    </div>
  );
}
